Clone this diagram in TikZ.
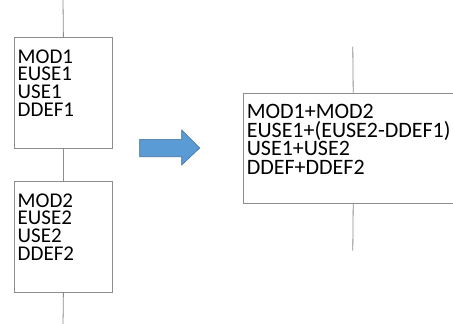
\documentclass[tikz,border=0pt]{standalone}
\usepackage{fontspec}
\setmainfont{Carlito}
\definecolor{linegray}{HTML}{8C8C8C}
\definecolor{arrowfill}{HTML}{5B9BD5}
\definecolor{arrowedge}{HTML}{41719C}
\begin{document}
\begin{tikzpicture}[x=1pt,y=-1pt,
  box/.style={draw=linegray, line width=0.8pt, rectangle, inner sep=0pt, anchor=north west},
  conn/.style={draw=linegray, line width=0.8pt},
  txt/.style={inner sep=0pt, anchor=north west, align=left, font=\fontsize{21}{17.8}\selectfont},
  txtr/.style={inner sep=0pt, anchor=north west, align=left, font=\fontsize{22}{18.7}\selectfont}]
\useasboundingbox (0,0) rectangle (453,324);
\clip (0,0) rectangle (453,324);
% left boxes
\node[box, minimum width=98pt, minimum height=111pt] (b1) at (14,37) {};
\node[box, minimum width=98pt, minimum height=111pt] (b2) at (14,181) {};
\node[txt] (t1) at (17.5,49.2) {MOD1\\EUSE1\\USE1\\DDEF1};
\node[txt] (t2) at (17.5,193.2) {MOD2\\EUSE2\\USE2\\DDEF2};
\coordinate (top1) at (63,0);
\coordinate (bot2) at (63,326);
\draw[conn] (top1) -- (b1.north);
\draw[conn] (b1.south) -- (b2.north);
\draw[conn] (b2.south) -- (bot2);
% arrow
\filldraw[fill=arrowfill, draw=arrowedge, line width=0.6pt]
  (139.7,139.3) -- (181.7,139.3) -- (181.7,130) -- (199.7,148) -- (181.7,165)
  -- (181.7,156.7) -- (139.7,156.7) -- cycle;
% right box
\node[box, minimum width=219pt, minimum height=110pt] (r) at (243.3,92.7) {};
\node[txtr] (tr) at (246.6,104.1) {MOD1+MOD2\\EUSE1+(EUSE2-DDEF1)\\USE1+USE2\\DDEF+DDEF2};
\coordinate (rtop) at (352.8,46.7);
\coordinate (rbot) at (352.8,250.7);
\draw[conn] (rtop) -- (r.north);
\draw[conn] (r.south) -- (rbot);
\end{tikzpicture}
\end{document}
